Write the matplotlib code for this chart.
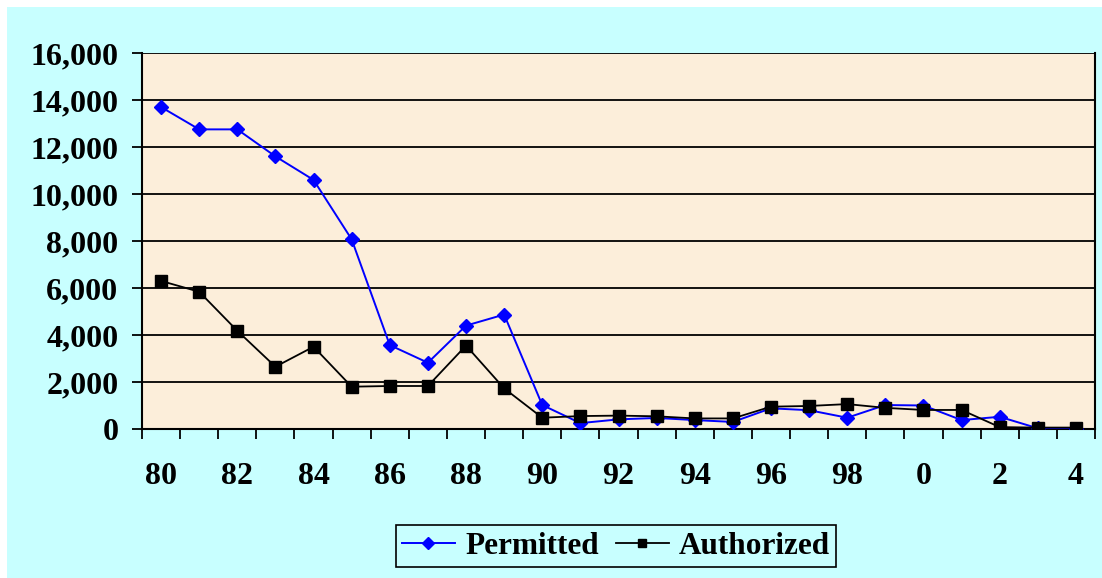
import matplotlib.pyplot as plt
from matplotlib.patches import Rectangle
from matplotlib.ticker import FuncFormatter

# years 1980-2004, shown as two-digit labels
years = ['80', '81', '82', '83', '84', '85', '86', '87', '88', '89',
         '90', '91', '92', '93', '94', '95', '96', '97', '98', '99',
         '0', '1', '2', '3', '4']
permitted = [13700, 12750, 12750, 11600, 10600, 8070, 3570, 2820, 4400, 4870,
             1020, 250, 410, 470, 380, 300, 880, 800, 480, 1020,
             1000, 380, 520, 30, 20]
authorized = [6300, 5840, 4180, 2650, 3500, 1800, 1830, 1830, 3550, 1730,
              480, 550, 570, 540, 450, 450, 950, 980, 1060, 900,
              810, 810, 80, 60, 60]

plt.rcParams['font.family'] = ['Liberation Serif', 'DejaVu Serif']
plt.rcParams['font.weight'] = 'bold'

W, H = 1102, 578
fig = plt.figure(figsize=(W / 100, H / 100), dpi=100, facecolor='white')
# cyan chart area, with a thin white margin top and left
fig.patches.append(Rectangle((7 / W, 0), 1, (H - 7) / H, transform=fig.transFigure,
                             facecolor='#C8FFFF', edgecolor='none', zorder=-10))

ax = fig.add_axes([142 / W, 1 - 429 / H, (1095 - 142) / W, (429 - 53) / H])
ax.set_facecolor('#FCEEDA')

x = range(len(years))
ax.plot(x, permitted, color='#0000FF', lw=1.4, marker='D', ms=7.6,
        label='Permitted', zorder=3)
ax.plot(x, authorized, color='black', lw=1.3, marker='s', ms=8.5,
        label='Authorized', zorder=4)

ax.set_xlim(-0.5, len(years) - 0.5)
ax.set_ylim(0, 16000)
ax.set_yticks(range(0, 16001, 2000))
ax.yaxis.set_major_formatter(FuncFormatter(lambda v, p: f'{int(v):,}'))
ax.grid(axis='y', color='black', lw=1.3)
ax.set_axisbelow(True)

ax.set_xticks(list(x)[::2])
ax.set_xticklabels(years[::2])
ax.set_xticks([i - 0.5 for i in range(len(years) + 1)], minor=True)
ax.tick_params(axis='x', which='major', length=0, pad=24, labelsize=23)
ax.tick_params(axis='x', which='minor', length=7, width=1.3, direction='out')
ax.tick_params(axis='y', length=7, width=1.3, pad=10, labelsize=23)

for s in ax.spines.values():
    s.set_linewidth(1.5)
ax.spines['top'].set_visible(False)

leg = fig.legend(loc='center', bbox_to_anchor=(616 / W, 1 - 546 / H), ncol=2,
                 prop={'size': 22.5, 'weight': 'bold'}, frameon=True, fancybox=False,
                 edgecolor='black', facecolor='#C8FFFF', framealpha=1,
                 handlelength=1.7, handletextpad=0.32, columnspacing=0.55,
                 borderpad=0.2, borderaxespad=0)
leg.get_frame().set_linewidth(1.2)
leg.legend_handles[0].set_markersize(6.4)
leg.legend_handles[1].set_markersize(6)

fig.savefig('out.png', dpi=100, facecolor=fig.get_facecolor())
